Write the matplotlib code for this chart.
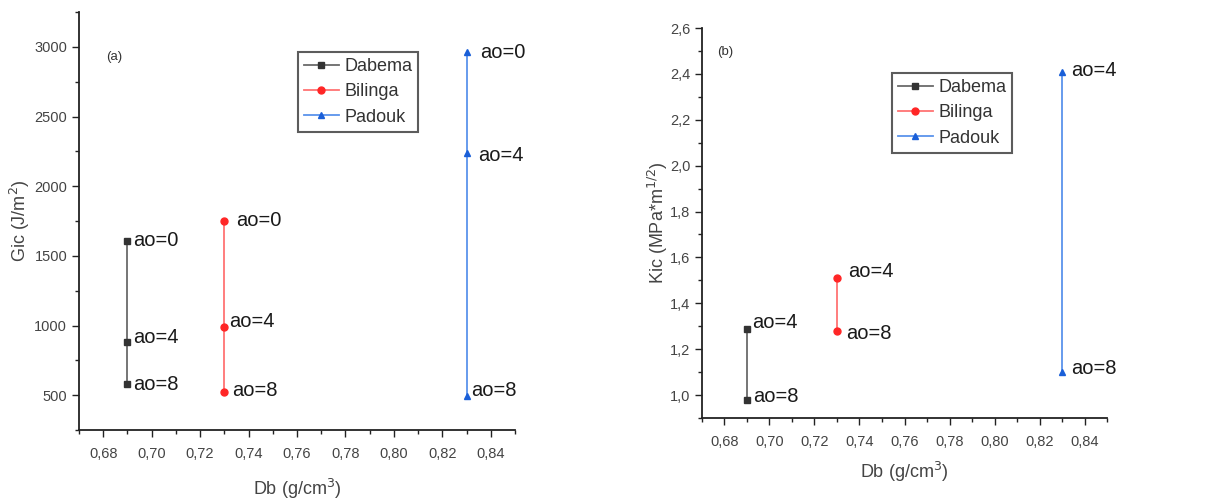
import numpy as np
import matplotlib
matplotlib.use("Agg")
import matplotlib.pyplot as plt
from matplotlib.ticker import MultipleLocator, FuncFormatter

plt.rcParams['font.family'] = ['Liberation Sans', 'DejaVu Sans']

# --- data ---
species = ['Dabema', 'Bilinga', 'Padouk']
density = [0.69, 0.73, 0.83]

gic_labels = [['ao=0', 'ao=4', 'ao=8'],
              ['ao=0', 'ao=4', 'ao=8'],
              ['ao=0', 'ao=4', 'ao=8']]
gic_dabema = [1610, 880, 580]
gic_bilinga = [1750, 990, 520]
gic_padouk = [2960, 2235, 495]

kic_labels = [['ao=4', 'ao=8'],
              ['ao=4', 'ao=8'],
              ['ao=4', 'ao=8']]
kic_dabema = [1.29, 0.98]
kic_bilinga = [1.51, 1.28]
kic_padouk = [2.41, 1.10]

# styles
markers = ['s', 'o', '^']
mcolors = ['#333333', '#ff2626', '#1a5fd8']
lcolors = ['#6a6a6a', '#ff7373', '#5a93ec']
# label offsets in pixels (dx, dy)
gic_off = [[(6, 0), (6, 5), (6, 0)],
           [(12, 1), (5, 5), (8, 2)],
           [(14, 0), (12, -2), (5, 5)]]
kic_off = [[(5, 6), (6, 3)],
           [(11, 7), (9, -3)],
           [(9, 1), (9, 4)]]

W, H = 1207, 504
fig = plt.figure(figsize=(W / 100, H / 100), dpi=100)


def px_axes(l, t, r, b):
    return fig.add_axes([l / W, 1 - b / H, (r - l) / W, (b - t) / H])


def comma(fmt):
    return FuncFormatter(lambda v, p: (fmt % v).replace('.', ','))


def style(ax):
    for s in ['top', 'right']:
        ax.spines[s].set_visible(False)
    for s in ['left', 'bottom']:
        ax.spines[s].set_linewidth(1.3)
        ax.spines[s].set_color('#222222')
    ax.tick_params(which='major', direction='out', length=5, width=1,
                   labelsize=10.5, colors='#222222', labelcolor='#444444')
    ax.tick_params(axis='x', which='major', pad=7)
    ax.tick_params(which='minor', direction='out', length=3, width=1,
                   colors='#222222')
    ax.set_xlim(0.67, 0.85)
    ax.xaxis.set_major_locator(MultipleLocator(0.02))
    ax.xaxis.set_minor_locator(MultipleLocator(0.01))
    ax.xaxis.set_major_formatter(comma('%.2f'))
    ax.set_xticks(np.arange(0.68, 0.8401, 0.02))


def draw(ax, series, labels, offs):
    for i, ys in enumerate(series):
        xs = [density[i]] * len(ys)
        ax.plot(xs, ys, color=lcolors[i], lw=1.3, marker=markers[i],
                ms=5, mfc=mcolors[i], mec=mcolors[i], label=species[i],
                clip_on=False, zorder=3)
        for y, lab, (dx, dy) in zip(ys, labels[i], offs[i]):
            ax.annotate(lab, (density[i], y), xytext=(dx, dy),
                        textcoords='offset pixels', ha='left', va='center',
                        fontsize=14.5, color='#1a1a1a')


def legend(ax, x, y):
    leg = fig.legend(*ax.get_legend_handles_labels(), loc='upper left',
                     bbox_to_anchor=(x / W, 1 - y / H), fontsize=13,
                     frameon=True, fancybox=False, edgecolor='#333333',
                     handlelength=1.9, handletextpad=0.3, borderpad=0.35,
                     labelspacing=0.45, borderaxespad=0)
    leg.get_frame().set_linewidth(1.5)
    for t in leg.get_texts():
        t.set_color('#333333')


# panel (a)
ax1 = px_axes(79, 12, 515, 430)
style(ax1)
draw(ax1, [gic_dabema, gic_bilinga, gic_padouk], gic_labels, gic_off)
ax1.set_ylim(250, 3250)
ax1.set_yticks(np.arange(500, 3001, 500))
ax1.yaxis.set_minor_locator(MultipleLocator(250))
ax1.set_xlabel('Db (g/cm$^3$)', fontsize=13, color='#444444', labelpad=12)
ax1.set_ylabel('Gic (J/m$^2$)', fontsize=13, color='#444444', labelpad=2)
ax1.text(0.08, 0.892, '(a)', transform=ax1.transAxes, fontsize=9.5,
         color='#333333', ha='center', va='center')
legend(ax1, 298, 52)

# panel (b)
ax2 = px_axes(702, 28, 1107, 418)
style(ax2)
draw(ax2, [kic_dabema, kic_bilinga, kic_padouk], kic_labels, kic_off)
ax2.set_ylim(0.9, 2.6)
ax2.set_yticks(np.arange(1.0, 2.61, 0.2))
ax2.yaxis.set_minor_locator(MultipleLocator(0.1))
ax2.yaxis.set_major_formatter(comma('%.1f'))
ax2.set_xlabel('Db (g/cm$^3$)', fontsize=13, color='#444444', labelpad=8)
ax2.set_ylabel('Kic (MPa*m$^{1/2}$)', fontsize=13, color='#444444', labelpad=0)
ax2.text(0.057, 0.938, '(b)', transform=ax2.transAxes, fontsize=9.5,
         color='#333333', ha='center', va='center')
legend(ax2, 892, 73)

fig.savefig('out.png', dpi=100)
